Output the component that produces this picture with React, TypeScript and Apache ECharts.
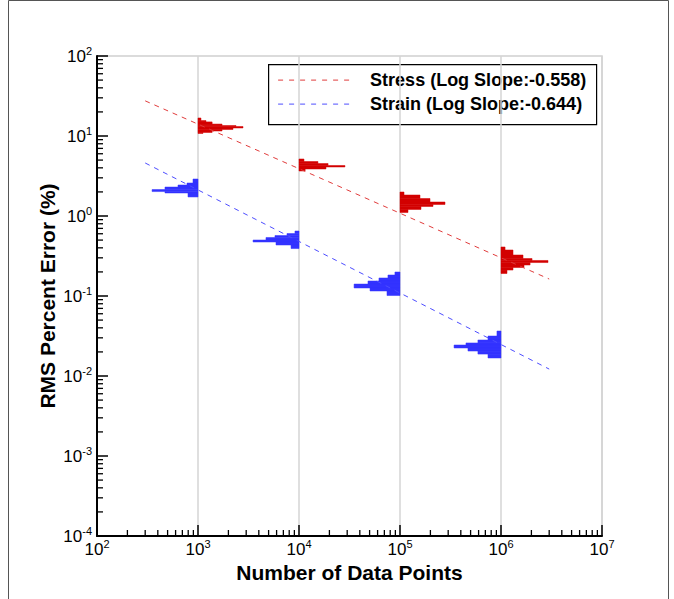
import React, { useEffect, useRef } from "react";
import * as echarts from "echarts";

const FONT = '"Liberation Sans", Arial, Helvetica, sans-serif';

const X_MIN = 1e2;
const X_MAX = 1e7;
const Y_MIN = 1e-4;
const Y_MAX = 1e2;

const sampleSizes = [1e3, 1e4, 1e5, 1e6];

// Stress histograms (bars extend to the right of each sample size)
const stressBinEdges = [
  [16.8, 15.6, 15.0, 14.1, 13.5, 13.15, 12.6, 12.05, 11.55, 11.06, 10.75],
  [5.16, 4.8, 4.53, 4.28, 4.1, 3.87, 3.65],
  [1.995, 1.83, 1.655, 1.496, 1.393, 1.315, 1.206, 1.106],
  [0.41, 0.376, 0.3255, 0.294, 0.278, 0.262, 0.244, 0.227, 0.211, 0.191],
];
const stressBarEnds = [
  [1070, 1200, 1380, 1730, 2380, 2790, 2220, 1730, 1380, 1120],
  [11200, 15400, 19400, 28500, 18500, 11500],
  [109600, 157800, 198200, 279000, 212300, 161400, 120000],
  [1.097e6, 1.315e6, 1.652e6, 2.03e6, 2.92e6, 1.94e6, 1.69e6, 1.315e6, 1.146e6],
];

// Strain histograms (bars extend to the left of each sample size)
const strainBinEdges = [
  [2.9, 2.585, 2.44, 2.3, 2.14, 2.02, 1.94, 1.73],
  [0.649, 0.604, 0.57, 0.539, 0.501, 0.473, 0.434, 0.392],
  [0.1995, 0.183, 0.168, 0.154, 0.141, 0.126, 0.1155, 0.1014],
  [0.0365, 0.0316, 0.0282, 0.0259, 0.0244, 0.0224, 0.0205, 0.0188, 0.0168],
];
const strainBarEnds = [
  [892, 778, 634, 471, 351, 471, 796],
  [9120, 7600, 5780, 4710, 3510, 5920, 8340],
  [89100, 76000, 61900, 48200, 35100, 50500, 74300],
  [912000, 743000, 591000, 450000, 343000, 471000, 591000, 743000],
];

// Log-log fit lines (end points)
const stressFit = [
  [300, 27.5],
  [3e6, 0.163],
];
const strainFit = [
  [300, 4.6],
  [3e6, 0.0122],
];

const legendLabels = ["Stress (Log Slope:-0.558)", "Strain (Log Slope:-0.644)"];
const xTitle = "Number of Data Points";
const yTitle = "RMS Percent Error (%)";
const xDecades = [1e2, 1e3, 1e4, 1e5, 1e6];
const yDecades = [1e-4, 1e-3, 1e-2, 1e-1, 1e0, 1e1];
const minorMultipliers = [2, 3, 4, 5, 6, 7, 8, 9];

const RED = "#d20000";
const BLUE = "#3333ff";
const RED_LINE = "#e03c3c";
const BLUE_LINE = "#4d4dff";

function buildHist(centers: number[], edges: number[][], ends: number[][]) {
  const out: number[][] = [];
  centers.forEach((c, i) => {
    ends[i].forEach((e, j) => {
      out.push([c, e, edges[i][j + 1], edges[i][j]]);
    });
  });
  return out;
}

function histRenderer(color: string) {
  return (params: any, api: any) => {
    const a = api.coord([api.value(0), api.value(3)]);
    const b = api.coord([api.value(1), api.value(2)]);
    return {
      type: "rect",
      shape: {
        x: Math.min(a[0], b[0]),
        y: Math.min(a[1], b[1]),
        width: Math.abs(b[0] - a[0]),
        height: Math.abs(b[1] - a[1]),
      },
      style: { fill: color, stroke: color, lineWidth: 0.5 },
    };
  };
}

const supLabel = (v: number) => {
  const e = Math.round(Math.log10(v));
  return `{b|10}{s|${e}}`;
};

const labelRich = {
  b: { fontSize: 17, fontFamily: FONT, color: "#000", lineHeight: 22, verticalAlign: "middle" },
  s: { fontSize: 11, fontFamily: FONT, color: "#000", lineHeight: 11, verticalAlign: "top" },
};

export default function App() {
  const ref = useRef<HTMLDivElement>(null);
  useEffect(() => {
    if (!ref.current) return;
    const chart = echarts.init(ref.current, undefined, { renderer: "svg" });

    const xMinor: number[][] = [];
    xDecades.forEach((d) => minorMultipliers.forEach((m) => xMinor.push([d * m, Y_MIN])));
    const yMinor: number[][] = [];
    yDecades.forEach((d) => minorMultipliers.forEach((m) => yMinor.push([X_MIN, d * m])));

    chart.setOption({
      animation: false,
      grid: {
        left: 97,
        right: 72,
        top: 56,
        bottom: 63,
        show: true,
        borderColor: "#d0d0d0",
        borderWidth: 1.5,
      },
      xAxis: {
        type: "log",
        logBase: 10,
        min: X_MIN,
        max: X_MAX,
        splitNumber: 5,
        name: xTitle,
        nameLocation: "middle",
        nameGap: 20,
        nameTextStyle: { fontFamily: FONT, fontSize: 21, fontWeight: "bold", color: "#000" },
        axisLine: { show: true, onZero: false, lineStyle: { color: "#000", width: 2 } },
        axisTick: { show: true, inside: true, length: 11, lineStyle: { color: "#000", width: 1.5 } },
        minorTick: { show: false },
        splitLine: { show: true, lineStyle: { color: "#d4d4d4", width: 1.5 } },
        axisLabel: { margin: 2, formatter: supLabel, rich: labelRich },
      },
      yAxis: {
        type: "log",
        logBase: 10,
        min: Y_MIN,
        max: Y_MAX,
        splitNumber: 6,
        name: yTitle,
        nameLocation: "middle",
        nameGap: 39,
        nameMoveOverlap: false,
        nameTextStyle: { fontFamily: FONT, fontSize: 21, fontWeight: "bold", color: "#000" },
        axisLine: { show: true, onZero: false, lineStyle: { color: "#000", width: 2 } },
        axisTick: { show: true, inside: true, length: 11, lineStyle: { color: "#000", width: 1.5 } },
        splitLine: { show: false },
        axisLabel: { margin: 5, formatter: supLabel, rich: labelRich },
      },
      series: [
        {
          type: "custom",
          name: "x minor ticks",
          data: xMinor,
          encode: { x: 0, y: 1 },
          silent: true,
          z: 5,
          renderItem: (params: any, api: any) => {
            const p = api.coord([api.value(0), api.value(1)]);
            return {
              type: "line",
              shape: { x1: p[0], y1: p[1], x2: p[0], y2: p[1] - 6 },
              style: { stroke: "#000", lineWidth: 1.3 },
            };
          },
        },
        {
          type: "custom",
          name: "y minor ticks",
          data: yMinor,
          encode: { x: 0, y: 1 },
          silent: true,
          z: 5,
          renderItem: (params: any, api: any) => {
            const p = api.coord([api.value(0), api.value(1)]);
            return {
              type: "line",
              shape: { x1: p[0], y1: p[1], x2: p[0] + 6, y2: p[1] },
              style: { stroke: "#000", lineWidth: 1.3 },
            };
          },
        },
        {
          type: "custom",
          name: "Stress histograms",
          data: buildHist(sampleSizes, stressBinEdges, stressBarEnds),
          encode: { x: [0, 1], y: [2, 3] },
          z: 3,
          renderItem: histRenderer(RED),
        },
        {
          type: "custom",
          name: "Strain histograms",
          data: buildHist(sampleSizes, strainBinEdges, strainBarEnds),
          encode: { x: [0, 1], y: [2, 3] },
          z: 3,
          renderItem: histRenderer(BLUE),
        },
        {
          type: "line",
          name: legendLabels[0],
          data: stressFit,
          showSymbol: false,
          symbol: "none",
          z: 4,
          lineStyle: { color: RED_LINE, width: 1, type: [5, 5] },
        },
        {
          type: "line",
          name: legendLabels[1],
          data: strainFit,
          showSymbol: false,
          symbol: "none",
          z: 4,
          lineStyle: { color: BLUE_LINE, width: 1, type: [5, 5] },
        },
      ],
      graphic: [
        {
          type: "rect",
          shape: { x: 8.5, y: 0.5, width: 660, height: 700 },
          style: { fill: "none", stroke: "#555", lineWidth: 1 },
          silent: true,
        },
        {
          type: "group",
          left: 268,
          top: 64,
          children: [
            {
              type: "rect",
              shape: { x: 0.5, y: 0.5, width: 328, height: 60 },
              style: { fill: "#fff", stroke: "#000", lineWidth: 1.2 },
            },
            {
              type: "line",
              shape: { x1: 10, y1: 16, x2: 85, y2: 16 },
              style: { stroke: RED_LINE, lineWidth: 1, lineDash: [5, 6] },
            },
            {
              type: "line",
              shape: { x1: 10, y1: 40, x2: 85, y2: 40 },
              style: { stroke: BLUE_LINE, lineWidth: 1, lineDash: [5, 6] },
            },
            {
              type: "text",
              x: 102,
              y: 16,
              style: {
                text: legendLabels[0],
                font: `bold 18px ${FONT}`,
                fill: "#000",
                textVerticalAlign: "middle",
                verticalAlign: "middle",
              },
            },
            {
              type: "text",
              x: 102,
              y: 40,
              style: {
                text: legendLabels[1],
                font: `bold 18px ${FONT}`,
                fill: "#000",
                textVerticalAlign: "middle",
                verticalAlign: "middle",
              },
            },
          ],
        },
      ],
    });
    return () => chart.dispose();
  }, []);
  return (
    <div
      ref={ref}
      style={{ position: "fixed", left: 0, top: 0, width: 674, height: 599, background: "#fff" }}
    />
  );
}
